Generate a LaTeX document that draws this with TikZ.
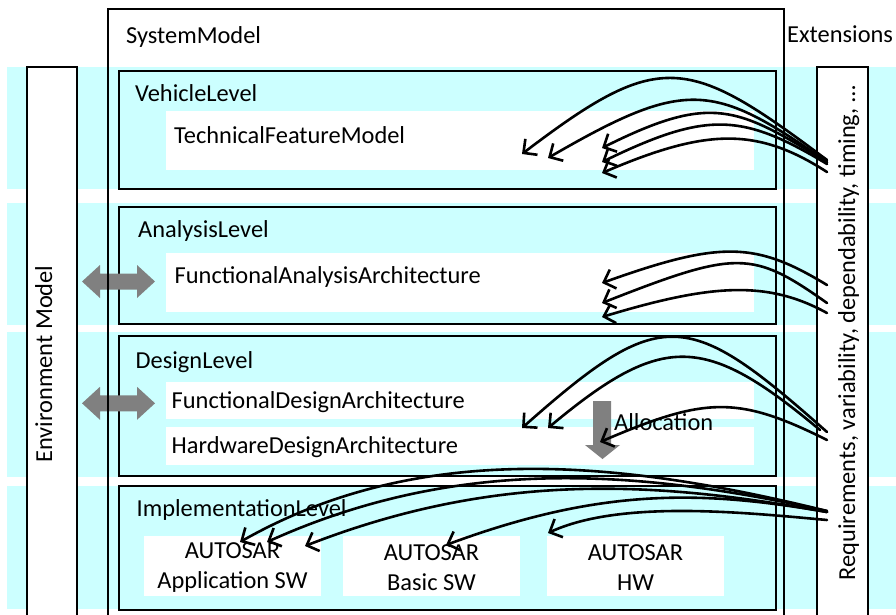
\documentclass[tikz,border=0pt]{standalone}
\usepackage{fontspec}
\setmainfont{Carlito}
\usetikzlibrary{arrows.meta}
\definecolor{bandc}{HTML}{CCFFFF}
\definecolor{garrow}{HTML}{808080}
\begin{document}
\begin{tikzpicture}[x=1pt,y=-1pt,
  font=\fontsize{24.4}{30}\selectfont,
  frame/.style={draw=black, line width=1.2pt, inner sep=0pt, outer sep=0pt},
  lvlbox/.style={frame, fill=bandc},
  wbox/.style={fill=white, inner sep=0pt, outer sep=0pt},
  lbl/.style={anchor=base west, inner sep=0pt},
  curv/.style={line width=2.6pt, line cap=round, line join=round,
    -{Straight Barb[length=10pt,width=20pt]}},
  gra/.style={fill=garrow}]
\useasboundingbox (0,0) rectangle (896,614);
% bands
\fill[bandc] (7,67) rectangle (900,189);
\fill[bandc] (7,203) rectangle (900,325);
\fill[bandc] (7,332) rectangle (900,477);
\fill[bandc] (7,486) rectangle (900,609);
% outer boxes
\node[frame, minimum width=676, minimum height=622] (sys) at (446,320) {};
\node[frame, fill=white, minimum width=50, minimum height=556] (env) at (52,345) {};
\node[frame, fill=white, minimum width=51, minimum height=556] (ext) at (842.5,345) {};
% level boxes
\node[lvlbox, minimum width=657, minimum height=118] (vl) at (447.5,130) {};
\node[lvlbox, minimum width=657, minimum height=117] (al) at (447.5,265.5) {};
\node[lvlbox, minimum width=657, minimum height=140] (dl) at (447.5,406) {};
\node[lvlbox, minimum width=657, minimum height=124] (il) at (447.5,548) {};
% white inner boxes
\node[wbox, minimum width=588, minimum height=59] (tfm) at (460,140.5) {};
\node[wbox, minimum width=588, minimum height=59] (faa) at (460,282.5) {};
\node[wbox, minimum width=588, minimum height=37] (fda) at (460,400.5) {};
\node[wbox, minimum width=588, minimum height=38] (hda) at (460,446) {};
\node[wbox, minimum width=177, minimum height=60] (app) at (232.5,566) {};
\node[wbox, minimum width=177, minimum height=60] (bsw) at (431.5,566) {};
\node[wbox, minimum width=177, minimum height=60] (hw) at (635.5,566) {};
\node[align=center, inner sep=0pt] (tapp) at (232.5,568) {AUTOSAR\\Application SW};
\node[align=center, inner sep=0pt] (tbsw) at (431.5,568) {AUTOSAR\\Basic SW};
\node[align=center, inner sep=0pt] (thw) at (635.5,568) {AUTOSAR\\HW};
% labels
\node[lbl] (tsys) at (126,43) {SystemModel};
\node[lbl] (text) at (787,42) {Extensions};
\node[lbl] (tvl) at (135,101) {VehicleLevel};
\node[lbl] (ttfm) at (174,143) {TechnicalFeatureModel};
\node[lbl] (tal) at (138,237) {AnalysisLevel};
\node[lbl] (tfaa) at (174.5,283) {FunctionalAnalysisArchitecture};
\node[lbl] (tdl) at (135.5,368) {DesignLevel};
\node[lbl] (tfda) at (171.5,408) {FunctionalDesignArchitecture};
\node[lbl] (thda) at (171.5,453) {HardwareDesignArchitecture};
\node[lbl] (til) at (136.5,516) {ImplementationLevel};
\node[anchor=base, rotate=90, inner sep=0pt] (tenv) at (52,364) {Environment Model};
\node[anchor=base, rotate=90, inner sep=0pt] (treq) at (855,333) {Requirements, variability, dependability, timing, …};
% gray arrows
\path[gra, shift={(0,281.5)}] (82,0) -- (100,-16.5) -- (100,-8) -- (137,-8) -- (137,-16.5) -- (155,0) -- (137,16.5) -- (137,8) -- (100,8) -- (100,16.5) -- cycle;
\path[gra, shift={(0,403.3)}] (82,0) -- (100,-16.5) -- (100,-8) -- (137,-8) -- (137,-16.5) -- (155,0) -- (137,16.5) -- (137,8) -- (100,8) -- (100,16.5) -- cycle;
\path[gra] (593,401) -- (611,401) -- (611,445) -- (620,445) -- (602.5,459) -- (585,445) -- (593,445) -- cycle;
\node[lbl] (talloc) at (614,430) {Allocation};
% outlines on top
\draw[line width=1.2pt] (108,640) -- (108,9) -- (784,9) -- (784,640);
% curved arrows: vehicle
\draw[curv] (827,160) .. controls (687,55) and (660,49) .. (522,154);
\draw[curv] (827,162) .. controls (713,82) and (686,78) .. (548,158);
\draw[curv] (827,162) .. controls (737,107) and (712,93) .. (602,148);
\draw[curv] (827,164) .. controls (742,113) and (707,111) .. (602,162);
\draw[curv] (827,172) .. controls (757,127) and (707,128) .. (602,173);
% analysis
\draw[curv] (827,285) .. controls (756,242) and (722,240) .. (602,283);
\draw[curv] (827,303) .. controls (752,250) and (737,250) .. (602,303);
\draw[curv] (827,313) .. controls (767,280) and (711,284) .. (602,317);
% design
\draw[curv] (827,432) .. controls (687,308) and (662,304) .. (522,428);
\draw[curv] (820,430) .. controls (705,334) and (663,332) .. (548,428);
\draw[curv] (827,440) .. controls (737,395) and (705,397) .. (600,442);
% implementation
\draw[curv] (827,511) .. controls (620,460) and (420,440) .. (240,542);
\draw[curv] (827,511) .. controls (640,470) and (460,455) .. (267,542);
\draw[curv] (827,512) .. controls (660,482) and (500,470) .. (305,546);
\draw[curv] (827,512) .. controls (700,490) and (600,488) .. (446,545);
\draw[curv] (827,520) .. controls (740,512) and (620,500) .. (548,533);
\end{tikzpicture}
\end{document}
